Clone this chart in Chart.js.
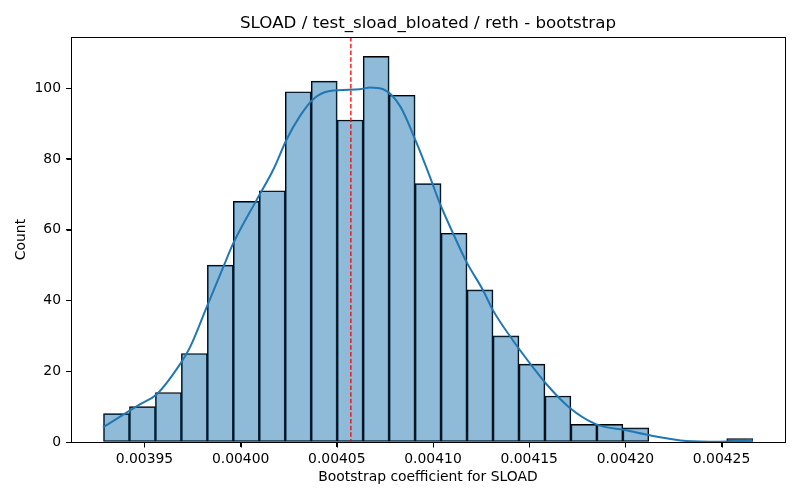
<!DOCTYPE html>
<html>
<head>
<meta charset="utf-8">
<script src="https://cdn.jsdelivr.net/npm/chart.js@4.4.1/dist/chart.umd.min.js"></script>
<style>
  html, body { margin: 0; padding: 0; background: #fff; }
  #wrap { width: 800px; height: 500px; }
</style>
</head>
<body>
<div id="wrap"><canvas id="histChart" width="800" height="500"></canvas></div>
<script>
// histogram bins (25 equal bins)
const binStart = 0.0039287;
const binWidth = 0.0000135;
const counts = [8, 10, 14, 25, 50, 68, 71, 99, 102, 91, 109, 98, 73, 59, 43, 30, 22, 13, 5, 5, 4, 0, 0, 0, 1];

// kde curve
const kdeX = [0.0039284, 0.0039478, 0.0039564, 0.0039685, 0.0039737, 0.0039824, 0.0039910, 0.0039962,
  0.0040084, 0.0040170, 0.0040239, 0.0040308, 0.0040377, 0.0040464, 0.0040620, 0.0040672, 0.0040741,
  0.0040828, 0.0040914, 0.0040983, 0.0041035, 0.0041104, 0.0041174, 0.0041260, 0.0041312, 0.0041416,
  0.0041520, 0.0041589, 0.0041710, 0.0041849, 0.0042005, 0.0042143, 0.0042316, 0.0042489, 0.0042662];
const kdeY = [4.1, 10.7, 13.5, 22, 26.8, 38.2, 49.5, 56.2,
  68.5, 77, 85.5, 92.1, 96.9, 99.2, 99.7, 100.2, 99.7,
  95, 84.6, 75.1, 67.5, 59, 50.9, 42.9, 37.2, 28.7,
  21.1, 16.4, 9.7, 5.0, 3.3, 1.7, 0.3, 0.1, 0.5];

const meanValue = 0.0040573;

const xTicks = [0.00395, 0.00400, 0.00405, 0.00410, 0.00415, 0.00420, 0.00425];
const yTicks = [0, 20, 40, 60, 80, 100];
const xRange = [0.0039118, 0.0042830];
const yRange = [0, 114.45];

const FONT = 'DejaVu Sans';

const bars = counts.map((c, i) => ({ x: binStart + binWidth * (i + 0.5), y: c === 0 ? null : c }));
const kde = kdeX.map((x, i) => ({ x: x, y: kdeY[i] }));

// mean line, axes frame and tick marks
const frame = {
  id: 'frame',
  afterDatasetsDraw(chart) {
    const { ctx, chartArea: a, scales } = chart;
    const px = scales.x.getPixelForValue(meanValue);
    ctx.save();
    ctx.strokeStyle = 'red';
    ctx.lineWidth = 1.3;
    ctx.setLineDash([4.5, 2.2]);
    ctx.beginPath();
    ctx.moveTo(px, a.top);
    ctx.lineTo(px, a.bottom);
    ctx.stroke();
    ctx.setLineDash([]);
    ctx.strokeStyle = '#000';
    ctx.lineWidth = 1;
    const L = Math.round(a.left) + 0.5, B = Math.round(a.bottom) + 0.5;
    ctx.strokeRect(L, Math.round(a.top) + 0.5,
      Math.round(a.right - a.left), Math.round(a.bottom - a.top));
    ctx.beginPath();
    xTicks.forEach(v => {
      const x = Math.round(scales.x.getPixelForValue(v)) + 0.5;
      ctx.moveTo(x, B);
      ctx.lineTo(x, B + 5);
    });
    yTicks.forEach(v => {
      const y = Math.round(scales.y.getPixelForValue(v)) + 0.5;
      ctx.moveTo(L, y);
      ctx.lineTo(L - 5, y);
    });
    ctx.stroke();
    ctx.restore();
  }
};

const ctx = document.getElementById('histChart').getContext('2d');
new Chart(ctx, {
  type: 'bar',
  data: {
    datasets: [
      {
        type: 'line',
        data: kde,
        borderColor: '#1f77b4',
        borderWidth: 2,
        pointRadius: 0,
        cubicInterpolationMode: 'monotone',
        fill: false,
        order: 0
      },
      {
        type: 'bar',
        data: bars,
        backgroundColor: 'rgba(31,119,180,0.5)',
        borderColor: '#000',
        borderWidth: 1,
        borderSkipped: false,
        barPercentage: 1,
        categoryPercentage: 1,
        order: 1
      }
    ]
  },
  options: {
    responsive: false,
    animation: false,
    layout: { padding: { left: 0, right: 15, top: 0, bottom: 0 } },
    plugins: {
      legend: { display: false },
      tooltip: { enabled: false },
      title: {
        display: true,
        fullSize: false,
        text: 'SLOAD / test_sload_bloated / reth - bootstrap',
        color: '#000',
        font: { family: FONT, size: 16.7, weight: 'normal' },
        padding: { top: 14, bottom: 3 }
      }
    },
    scales: {
      x: {
        type: 'linear',
        offset: false,
        min: xRange[0],
        max: xRange[1],
        afterBuildTicks: s => { s.ticks = xTicks.map(v => ({ value: v })); },
        afterFit: s => { s.height = 58; },
        border: { display: false },
        grid: { offset: false, drawOnChartArea: false, color: '#000', tickLength: 5 },
        ticks: {
          color: '#000',
          padding: 4,
          maxRotation: 0,
          autoSkip: false,
          font: { family: FONT, size: 13.9 },
          callback: v => v.toFixed(5)
        },
        title: {
          display: true,
          text: 'Bootstrap coefficient for SLOAD',
          color: '#000',
          font: { family: FONT, size: 13.9 },
          padding: { top: 4, bottom: 14 }
        }
      },
      y: {
        min: yRange[0],
        max: yRange[1],
        afterBuildTicks: s => { s.ticks = yTicks.map(v => ({ value: v })); },
        afterFit: s => { s.width = 71; },
        border: { display: false },
        grid: { offset: false, drawOnChartArea: false, color: '#000', tickLength: 5 },
        ticks: {
          color: '#000',
          padding: 5,
          autoSkip: false,
          font: { family: FONT, size: 13.9 }
        },
        title: {
          display: true,
          text: 'Count',
          color: '#000',
          font: { family: FONT, size: 13.9 },
          padding: { top: 13.5, bottom: 4 }
        }
      }
    }
  },
  plugins: [frame]
});
</script>
</body>
</html>
